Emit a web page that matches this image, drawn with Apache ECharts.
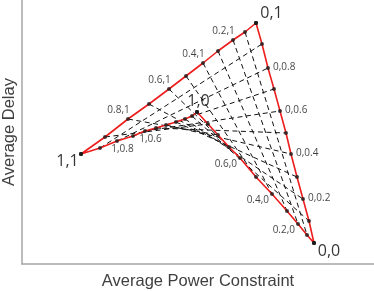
<!DOCTYPE html>
<html>
<head>
<meta charset="utf-8">
<script src="https://cdn.jsdelivr.net/npm/echarts@6/dist/echarts.min.js"></script>
<style>html,body{margin:0;padding:0;background:#fff;}#c{width:374px;height:291px;}</style>
</head>
<body>
<div id="c"></div>
<script>
// Edge points, indexed by parameter value 0, 0.1, ..., 1
// top edge (b = 1), indexed by a
const topPower   = [234, 223, 211, 196, 181, 164, 147, 127, 106, 83, 59];
const topDelay   = [241, 232, 224, 213, 201, 188, 175, 160, 145, 127, 110];
// bottom edge (b = 0), indexed by a
const bottomPower = [292, 285, 276, 265, 250, 234, 218, 207, 196, 186, 175];
const bottomDelay = [21, 29, 40, 53, 70, 87, 106, 117, 129, 140, 152];
// right edge (a = 0), indexed by b
const rightPower = [292, 287, 281, 275, 269, 264, 258, 252, 246, 240, 234];
const rightDelay = [21, 43, 65, 87, 110, 131, 153, 175, 196, 220, 241];
// left edge (a = 1), indexed by b
const leftPower  = [175, 170, 163, 154, 144, 134, 123, 111, 95, 78, 59];
const leftDelay  = [152, 148, 145, 142, 139, 136, 133, 128, 123, 116, 110];

// point labels
const topLabels    = ['', '', '0.2,1', '', '0.4,1', '', '0.6,1', '', '0.8,1', '', ''];
const bottomLabels = ['', '', '0.2,0', '', '0.4,0', '', '0.6,0', '', '', '', ''];
const rightLabels  = ['', '', '0,0.2', '', '0,0.4', '', '0,0.6', '', '0,0.8', '', ''];
const leftLabels   = ['', '', '', '', '', '', '1,0.6', '', '1,0.8', '', ''];
const cornerLabels = ['0,0', '0,1', '1,0', '1,1'];

const xTitle = 'Average Power Constraint';
const yTitle = 'Average Delay';

const series = [];
const dashStyle = {color: '#111', width: 1, type: [5, 3.5]};
// constant-a lines (top -> bottom)
for (let i = 1; i < 10; i++) {
  series.push({type: 'line', silent: true, symbol: 'none', z: 2,
    lineStyle: dashStyle,
    data: [[topPower[i], topDelay[i]], [bottomPower[i], bottomDelay[i]]]});
}
// constant-b lines (left -> right)
for (let i = 1; i < 10; i++) {
  series.push({type: 'line', silent: true, symbol: 'none', z: 2,
    lineStyle: dashStyle,
    data: [[leftPower[i], leftDelay[i]], [rightPower[i], rightDelay[i]]]});
}
// red boundary
const redData = [];
for (let i = 0; i <= 10; i++) redData.push([topPower[i], topDelay[i]]);
for (let i = 10; i >= 0; i--) redData.push([leftPower[i], leftDelay[i]]);
for (let i = 10; i >= 0; i--) redData.push([bottomPower[i], bottomDelay[i]]);
for (let i = 0; i <= 10; i++) redData.push([rightPower[i], rightDelay[i]]);
series.push({type: 'line', silent: true, symbol: 'none', z: 3,
  lineStyle: {color: '#ee1d1d', width: 1.6}, data: redData});

const baseLabel = {show: true, position: 'inside', fontSize: 10, fontFamily: 'Open Sans', color: '#111', verticalAlign: 'middle'};
function edgeSeries(power, delay, texts, opt) {
  return {type: 'scatter', symbolSize: 4, z: 5, itemStyle: {color: '#1a1a1a'},
    data: power.map((p, i) => ({
      value: [p, delay[i]],
      label: texts[i] ? Object.assign({}, baseLabel, {formatter: texts[i]}, opt) : {show: false}
    }))};
}
series.push(edgeSeries(topPower, topDelay, topLabels, {align: 'center', offset: [-9.5, -8.5]}));
series.push(edgeSeries(bottomPower, bottomDelay, bottomLabels, {align: 'right', offset: [-3, 6.5]}));
series.push(edgeSeries(rightPower, rightDelay, rightLabels, {align: 'left', offset: [5, -1]}));
series.push(edgeSeries(leftPower, leftDelay, leftLabels, {align: 'center', offset: [5.5, 8.5]}));

// corner labels
const cornerPts = [
  [bottomPower[0], bottomDelay[0], [15, 8]],
  [topPower[0], topDelay[0], [15.5, -10]],
  [bottomPower[10], bottomDelay[10], [1.5, -10.5]],
  [topPower[10], topDelay[10], [-13.5, 7.5]]
];
series.push({type: 'scatter', symbolSize: 4, z: 6, itemStyle: {color: '#1a1a1a'},
  data: cornerPts.map((c, i) => ({
    value: [c[0], c[1]],
    label: Object.assign({}, baseLabel, {fontSize: 16, align: 'center', offset: c[2], formatter: cornerLabels[i], color: '#000'})
  }))});

const chart = echarts.init(document.getElementById('c'), null, {renderer: 'canvas'});
chart.setOption({
  animation: false,
  grid: {left: 22, right: 0, top: 0, bottom: 27, containLabel: false, outerBoundsMode: 'none'},
  xAxis: {type: 'value', min: 0, max: 352,
    name: xTitle, nameLocation: 'middle', nameGap: 8.5,
    nameTextStyle: {fontSize: 16.5, fontFamily: 'Liberation Sans', color: '#404040'},
    axisLine: {show: true, lineStyle: {color: '#a6a6a6', width: 1.5}},
    axisTick: {show: false}, axisLabel: {show: false}, splitLine: {show: false}},
  yAxis: {type: 'value', min: 0, max: 264,
    name: yTitle, nameLocation: 'middle', nameGap: 4,
    nameTextStyle: {fontSize: 16.5, fontFamily: 'Liberation Sans', color: '#404040'},
    axisLine: {show: true, lineStyle: {color: '#a6a6a6', width: 1.5}},
    axisTick: {show: false}, axisLabel: {show: false}, splitLine: {show: false}},
  series: series
});
</script>
</body>
</html>
